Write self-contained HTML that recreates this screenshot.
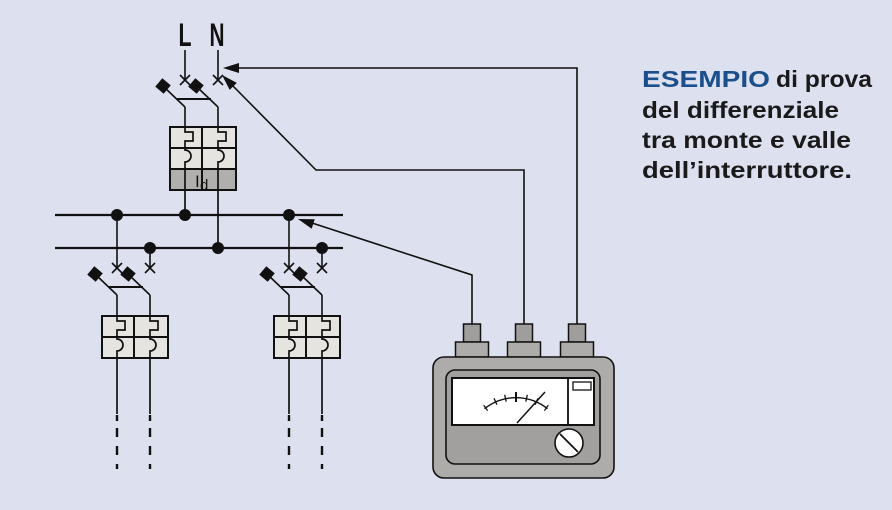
<!DOCTYPE html>
<html>
<head>
<meta charset="utf-8">
<style>
html,body{margin:0;padding:0;background:#dde0ee;}
svg{display:block;}
text{font-family:"Liberation Sans",Arial,sans-serif;}
</style>
</head>
<body>
<svg width="892" height="510" viewBox="0 0 892 510" xmlns="http://www.w3.org/2000/svg">
<rect width="892" height="510" fill="#dde0ee"/>

<!-- L N labels -->
<text x="185" y="46" font-size="32" font-weight="bold" text-anchor="middle" textLength="13" lengthAdjust="spacingAndGlyphs" fill="#111">L</text>
<text x="217" y="46" font-size="32" font-weight="bold" text-anchor="middle" textLength="15" lengthAdjust="spacingAndGlyphs" fill="#111">N</text>

<g stroke="#111" stroke-width="1.6" fill="none" stroke-linecap="butt">
  <!-- top breaker -->
  <line x1="185" y1="50" x2="185" y2="80"/>
  <line x1="218" y1="50" x2="218" y2="80"/>
  <path d="M180,75 L190,85 M180,85 L190,75"/>
  <path d="M213,75 L223,85 M213,85 L223,75"/>
  <line x1="164" y1="87" x2="185" y2="107"/>
  <line x1="197" y1="87" x2="218" y2="107"/>
  <line x1="185" y1="107" x2="185" y2="127"/>
  <line x1="218" y1="107" x2="218" y2="127"/>
  <line x1="177" y1="99" x2="211" y2="99" stroke-width="2"/>
</g>
<g fill="#111">
  <rect x="157.5" y="80.5" width="11" height="11" transform="rotate(40 163 86)"/>
  <rect x="190.5" y="80.5" width="11" height="11" transform="rotate(40 196 86)"/>
</g>

<!-- top box -->
<rect x="170" y="127" width="66" height="42" fill="#e6e4e1"/>
<rect x="170" y="169" width="66" height="21" fill="#b1afad"/>
<g stroke="#111" stroke-width="2" fill="none">
  <rect x="170" y="127" width="66" height="63"/>
  <line x1="170" y1="148" x2="236" y2="148"/>
  <line x1="170" y1="169" x2="236" y2="169"/>
  <line x1="202" y1="127" x2="202" y2="190"/>
</g>
<g stroke="#111" stroke-width="1.7" fill="none">
  <path d="M185,127 V132 H193 V141 H185 V148"/>
  <path d="M185,148 V150 A6,6 0 0 1 185,162 V169"/>
  <path d="M218,127 V132 H226 V141 H218 V148"/>
  <path d="M218,148 V150 A6,6 0 0 1 218,162 V169"/>
  <line x1="185" y1="169" x2="185" y2="215"/>
  <line x1="218" y1="169" x2="218" y2="248"/>
</g>
<text x="195" y="187" font-size="17" fill="#111">I</text>
<text x="200" y="190" font-size="15" fill="#111">d</text>

<!-- bus bars -->
<g stroke="#111" stroke-width="2.2">
  <line x1="55" y1="215" x2="343" y2="215"/>
  <line x1="55" y1="248" x2="343" y2="248"/>
</g>
<g fill="#111">
  <circle cx="117" cy="215" r="6"/>
  <circle cx="185" cy="215" r="6"/>
  <circle cx="289" cy="215" r="6"/>
  <circle cx="150" cy="248" r="6"/>
  <circle cx="218" cy="248" r="6"/>
  <circle cx="322" cy="248" r="6"/>
</g>

<!-- lower left breaker -->
<g stroke="#111" stroke-width="1.6" fill="none">
  <line x1="117" y1="215" x2="117" y2="268"/>
  <line x1="150" y1="248" x2="150" y2="268"/>
  <path d="M112,263 L122,273 M112,273 L122,263"/>
  <path d="M145,263 L155,273 M145,273 L155,263"/>
  <line x1="96" y1="275" x2="117" y2="295"/>
  <line x1="129" y1="275" x2="150" y2="295"/>
  <line x1="117" y1="295" x2="117" y2="316"/>
  <line x1="150" y1="295" x2="150" y2="316"/>
  <line x1="109" y1="287" x2="143" y2="287" stroke-width="2"/>
</g>
<g fill="#111">
  <rect x="89.5" y="268.5" width="11" height="11" transform="rotate(40 95 274)"/>
  <rect x="122.5" y="268.5" width="11" height="11" transform="rotate(40 128 274)"/>
</g>
<rect x="102" y="316" width="66" height="42" fill="#e6e4e1"/>
<g stroke="#111" stroke-width="2" fill="none">
  <rect x="102" y="316" width="66" height="42"/>
  <line x1="102" y1="337" x2="168" y2="337"/>
  <line x1="134" y1="316" x2="134" y2="358"/>
</g>
<g stroke="#111" stroke-width="1.7" fill="none">
  <path d="M117,316 V321 H125 V330 H117 V337"/>
  <path d="M117,337 V339 A6,6 0 0 1 117,351 V358"/>
  <path d="M150,316 V321 H158 V330 H150 V337"/>
  <path d="M150,337 V339 A6,6 0 0 1 150,351 V358"/>
  <line x1="117" y1="358" x2="117" y2="414"/>
  <line x1="150" y1="358" x2="150" y2="414"/>
</g>

<!-- lower right breaker -->
<g stroke="#111" stroke-width="1.6" fill="none">
  <line x1="289" y1="215" x2="289" y2="268"/>
  <line x1="322" y1="248" x2="322" y2="268"/>
  <path d="M284,263 L294,273 M284,273 L294,263"/>
  <path d="M317,263 L327,273 M317,273 L327,263"/>
  <line x1="268" y1="275" x2="289" y2="295"/>
  <line x1="301" y1="275" x2="322" y2="295"/>
  <line x1="289" y1="295" x2="289" y2="316"/>
  <line x1="322" y1="295" x2="322" y2="316"/>
  <line x1="281" y1="287" x2="315" y2="287" stroke-width="2"/>
</g>
<g fill="#111">
  <rect x="261.5" y="268.5" width="11" height="11" transform="rotate(40 267 274)"/>
  <rect x="294.5" y="268.5" width="11" height="11" transform="rotate(40 300 274)"/>
</g>
<rect x="274" y="316" width="66" height="42" fill="#e6e4e1"/>
<g stroke="#111" stroke-width="2" fill="none">
  <rect x="274" y="316" width="66" height="42"/>
  <line x1="274" y1="337" x2="340" y2="337"/>
  <line x1="306" y1="316" x2="306" y2="358"/>
</g>
<g stroke="#111" stroke-width="1.7" fill="none">
  <path d="M289,316 V321 H297 V330 H289 V337"/>
  <path d="M289,337 V339 A6,6 0 0 1 289,351 V358"/>
  <path d="M322,316 V321 H330 V330 H322 V337"/>
  <path d="M322,337 V339 A6,6 0 0 1 322,351 V358"/>
  <line x1="289" y1="358" x2="289" y2="414"/>
  <line x1="322" y1="358" x2="322" y2="414"/>
</g>

<!-- dashed continuations -->
<g stroke="#111" stroke-width="2.4">
  <path d="M117,415 V421 M117,428 V437 M117,446 V455 M117,464 V469"/>
  <path d="M150,415 V421 M150,428 V437 M150,446 V455 M150,464 V469"/>
  <path d="M289,415 V421 M289,428 V437 M289,446 V455 M289,464 V469"/>
  <path d="M322,415 V421 M322,428 V437 M322,446 V455 M322,464 V469"/>
</g>

<!-- test wires -->
<g stroke="#111" stroke-width="1.6" fill="none">
  <polyline points="577,324 577,68 236,68"/>
  <polyline points="524,324 524,170 316,170 233,86"/>
  <polyline points="472,324 472,275 312,223"/>
</g>
<g fill="#111">
  <polygon points="223,68 239,63 239,73"/>
  <polygon points="222,75 236.8,82.9 229.7,89.9"/>
  <polygon points="298,219 314.7,219.2 311.7,228.7"/>
</g>

<!-- meter connectors -->
<g stroke="#111" stroke-width="1.5">
  <rect x="463.5" y="324" width="17" height="18" fill="#a09e9c"/>
  <rect x="455.5" y="342" width="33" height="15" fill="#aeacaa"/>
  <rect x="515.5" y="324" width="17" height="18" fill="#a09e9c"/>
  <rect x="507.5" y="342" width="33" height="15" fill="#aeacaa"/>
  <rect x="568.5" y="324" width="17" height="18" fill="#a09e9c"/>
  <rect x="560.5" y="342" width="33" height="15" fill="#aeacaa"/>
</g>

<!-- meter body -->
<rect x="433" y="357" width="181" height="121" rx="11" fill="#aeacaa" stroke="#111" stroke-width="1.6"/>
<rect x="446" y="370" width="154" height="94" rx="9" fill="#a2a09e" stroke="#111" stroke-width="1.6"/>
<rect x="452" y="378" width="142" height="47" fill="#ffffff" stroke="#111" stroke-width="2"/>
<line x1="568" y1="378" x2="568" y2="425" stroke="#111" stroke-width="1.8"/>
<rect x="573" y="382" width="18" height="8" fill="#fff" stroke="#111" stroke-width="1.3"/>

<!-- scale -->
<path d="M484.5,408.7 A50.6,50.6 0 0 1 547.5,408.7" stroke="#111" stroke-width="1.4" fill="none"/>
<g stroke="#111" stroke-width="1.3">
  <line x1="487.6" y1="410.6" x2="483.7" y2="405.3"/>
  <line x1="496.9" y1="404.7" x2="494.0" y2="398.3"/>
  <line x1="506.2" y1="401.6" x2="504.7" y2="394.8"/>
  <line x1="516" y1="402" x2="516" y2="392" stroke-width="2"/>
  <line x1="525.8" y1="401.6" x2="527.3" y2="394.8"/>
  <line x1="535.1" y1="404.7" x2="538.0" y2="398.3"/>
  <line x1="544.4" y1="410.6" x2="548.3" y2="405.3"/>
</g>
<line x1="517" y1="423" x2="545" y2="392" stroke="#111" stroke-width="1.5"/>

<!-- knob -->
<circle cx="569" cy="443" r="14" fill="#fff" stroke="#111" stroke-width="1.6"/>
<line x1="560" y1="434" x2="578" y2="452" stroke="#111" stroke-width="1.8"/>

<!-- caption text -->
<g font-size="23" font-weight="bold">
  <text x="642" y="87" fill="#1b4f8c" textLength="128" lengthAdjust="spacingAndGlyphs">ESEMPIO</text>
  <text x="776" y="87" fill="#1a1a1a" textLength="96" lengthAdjust="spacingAndGlyphs">di prova</text>
  <text x="642" y="118" fill="#1a1a1a" textLength="197" lengthAdjust="spacingAndGlyphs">del differenziale</text>
  <text x="642" y="148" fill="#1a1a1a" textLength="209" lengthAdjust="spacingAndGlyphs">tra monte e valle</text>
  <text x="642" y="178" fill="#1a1a1a" textLength="210" lengthAdjust="spacingAndGlyphs">dell’interruttore.</text>
</g>
</svg>
</body>
</html>
